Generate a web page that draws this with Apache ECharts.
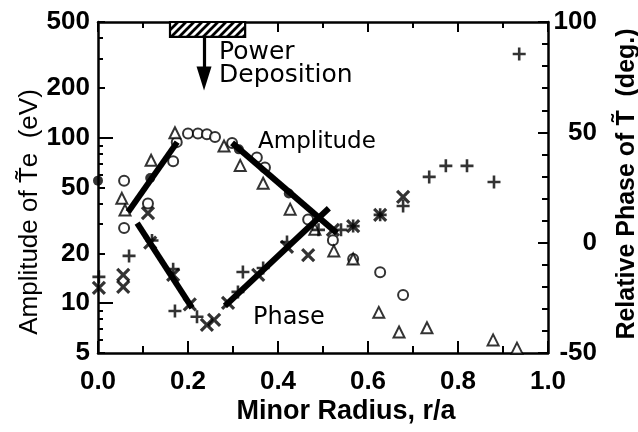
<!DOCTYPE html>
<html><head><meta charset="utf-8">
<script src="https://cdn.jsdelivr.net/npm/echarts@6/dist/echarts.min.js"></script>
<style>html,body{margin:0;padding:0;background:#fff}#c{width:638px;height:432px}</style>
</head><body><div id="c"></div>
<script>
// ---- data (r/a, amplitude eV) ----
const circles = [[0.058,55],[0.058,28.5],[0.111,40],[0.167,72],[0.175,94],[0.2,106],[0.222,106],[0.242,105],[0.26,101],[0.298,93],[0.353,76],[0.371,66],[0.467,32],[0.522,24],[0.567,18.5],[0.627,15.4],[0.678,11.2]];
const filledCircles = [[0.0,55],[0.116,57],[0.313,85],[0.424,46]];
const triangles = [[0.053,43],[0.06,36.5],[0.118,73],[0.171,107],[0.28,89],[0.316,68],[0.367,53],[0.427,37],[0.482,28],[0.524,20.7],[0.567,18.5],[0.624,8.8],[0.669,6.7],[0.731,7.1],[0.878,6.0],[0.931,5.35]];
// ---- data (r/a, relative phase deg) ----
const crosses = [[0.002,-20.5],[0.056,-14.6],[0.056,-20],[0.111,13.4],[0.116,0],[0.167,-14.6],[0.204,-28],[0.242,-37.3],[0.258,-35],[0.289,-27.3],[0.356,-14.6],[0.42,-1.9],[0.467,-5.6],[0.522,5.8],[0.567,7.5],[0.627,12.6],[0.678,20.7]];
const pluses = [[0.002,-15.5],[0.069,-6],[0.12,1],[0.167,-12],[0.171,-31],[0.22,-33.6],[0.311,-22.3],[0.322,-13.3],[0.367,-11.5],[0.42,0.3],[0.49,5.8],[0.54,5.8],[0.567,7.5],[0.627,12.6],[0.678,16.6],[0.736,29.8],[0.773,34.8],[0.82,34.8],[0.88,27.5],[0.936,85.5]];
// ---- fitted lines ----
const ampFitUp = [[0.067,35.6],[0.176,94]];
const ampFitDown = [[0.298,93],[0.531,26.5]];
const phaseFitDown = [[0.087,8.9],[0.209,-29.6]];
const phaseFitUp = [[0.282,-28.7],[0.513,15.6]];
// ---- power deposition annotation ----
const depositionRange = [0.16, 0.327];
const depositionAmp = [406, 500];
const arrowR = 0.2356, arrowAmp = [406, 228];
// ---- ticks ----
const xMin = 0, xMax = 1, xStep = 0.2;
const ampLabels = [5,10,20,50,100,200,500];
const ampMinor = [6,7,8,9,30,40,60,70,80,90,300,400];
const ampLong = [10,100];
const phaseMin = -50, phaseMax = 100, phaseStep = 50;

const hatch = document.createElement('canvas');
hatch.width = 8; hatch.height = 8;
(function(){const g = hatch.getContext('2d');g.fillStyle='#fff';g.fillRect(0,0,8,8);g.strokeStyle='#000';g.lineWidth=2.8;
 g.beginPath();g.moveTo(-2,10);g.lineTo(10,-2);g.moveTo(-2,2);g.lineTo(2,-2);g.moveTo(6,10);g.lineTo(10,6);g.stroke();})();

const black = '#000';
const axLine = {show:true,onZero:false,lineStyle:{color:black,width:2.5}};
const FONT = '"Liberation Sans", Arial, sans-serif';
const crossPath = 'path://M0,0L10,10M10,0L0,10';
const plusPath = 'path://M5,0L5,10M0,5L10,5';

const chart = echarts.init(document.getElementById('c'), null, {renderer:'canvas'});
const logAxisBase = {type:'log',logBase:10,min:5,max:500,position:'left',splitLine:{show:false}};
chart.setOption({
  animation:false,
  backgroundColor:'#fff',
  textStyle:{fontFamily:FONT},
  grid:{left:98,right:90,top:22,bottom:79,containLabel:false,outerBoundsMode:'none'},
  xAxis:[
    {type:'value',min:xMin,max:xMax,interval:xStep,position:'bottom',axisLine:axLine,
     axisTick:{show:true,inside:true,length:12,lineStyle:{color:black,width:2}},
     minorTick:{show:true,splitNumber:2,length:7,lineStyle:{color:black,width:2}},
     axisLabel:{color:black,fontSize:26,fontWeight:'bold',fontFamily:FONT,margin:16,formatter:v=>v.toFixed(1)},
     splitLine:{show:false},minorSplitLine:{show:false}},
    {type:'value',min:xMin,max:xMax,interval:xStep,position:'top',axisLine:axLine,
     axisTick:{show:true,inside:true,length:10,lineStyle:{color:black,width:2}},
     minorTick:{show:true,splitNumber:2,length:6,lineStyle:{color:black,width:2}},
     axisLabel:{show:false},splitLine:{show:false}}
  ],
  yAxis:[
    Object.assign({},logAxisBase,{axisLine:axLine,
     axisTick:{show:true,inside:true,length:7,customValues:ampLabels,lineStyle:{color:black,width:2}},
     axisLabel:{show:true,customValues:ampLabels,color:black,fontSize:26,fontWeight:'bold',fontFamily:FONT,margin:8,
       formatter:v=>String(Math.round(v))}}),
    {type:'value',min:phaseMin,max:phaseMax,interval:phaseStep,position:'right',axisLine:axLine,
     axisTick:{show:true,inside:true,length:10,lineStyle:{color:black,width:2}},
     minorTick:{show:true,splitNumber:5,length:6,lineStyle:{color:black,width:2}},
     axisLabel:{color:black,fontSize:26,fontWeight:'bold',fontFamily:FONT,margin:49,align:'right'},
     splitLine:{show:false},minorSplitLine:{show:false}},
    Object.assign({},logAxisBase,{axisLine:{show:false},
     axisTick:{show:true,inside:true,length:5,customValues:ampMinor,lineStyle:{color:black,width:2}},
     axisLabel:{show:false}}),
    Object.assign({},logAxisBase,{axisLine:{show:false},
     axisTick:{show:true,inside:true,length:15,customValues:ampLong,lineStyle:{color:black,width:2}},
     axisLabel:{show:false}})
  ],
  series:[
    {type:'scatter',name:'circles',xAxisIndex:0,yAxisIndex:0,data:circles,symbol:'emptyCircle',symbolSize:10,
     itemStyle:{color:black,borderWidth:2.1},z:3,
     markArea:{silent:true,itemStyle:{color:{image:hatch,repeat:'repeat'},borderColor:black,borderWidth:2.2},
       data:[[{xAxis:depositionRange[0],yAxis:depositionAmp[0]},{xAxis:depositionRange[1],yAxis:depositionAmp[1]}]]},
     markLine:{silent:true,symbol:['none','triangle'],symbolSize:[15,24],lineStyle:{color:black,width:3.2,type:'solid'},
       label:{show:false},data:[[{coord:[arrowR,arrowAmp[0]]},{coord:[arrowR,arrowAmp[1]]}]]}},
    {type:'scatter',name:'filled',xAxisIndex:0,yAxisIndex:0,data:filledCircles,symbol:'circle',symbolSize:10,
     itemStyle:{color:black},z:3},
    {type:'scatter',name:'triangles',xAxisIndex:0,yAxisIndex:0,data:triangles,symbol:'emptyTriangle',symbolSize:11,
     itemStyle:{color:black,borderWidth:2.1},z:3},
    {type:'scatter',name:'crosses',xAxisIndex:0,yAxisIndex:1,data:crosses,symbol:crossPath,symbolSize:12,
     itemStyle:{color:'none',borderColor:black,borderWidth:3.2},z:3},
    {type:'scatter',name:'pluses',xAxisIndex:0,yAxisIndex:1,data:pluses,symbol:plusPath,symbolSize:13,
     itemStyle:{color:'none',borderColor:black,borderWidth:2.6},z:3},
    {type:'line',xAxisIndex:0,yAxisIndex:0,data:ampFitUp,showSymbol:false,lineStyle:{color:black,width:6},z:4},
    {type:'line',xAxisIndex:0,yAxisIndex:0,data:ampFitDown,showSymbol:false,lineStyle:{color:black,width:6},z:4},
    {type:'line',xAxisIndex:0,yAxisIndex:1,data:phaseFitDown,showSymbol:false,lineStyle:{color:black,width:6},z:4},
    {type:'line',xAxisIndex:0,yAxisIndex:1,data:phaseFitUp,showSymbol:false,lineStyle:{color:black,width:6},z:4}
  ],
  graphic:[
    {type:'text',x:30,y:212,rotation:Math.PI/2,style:{text:'Amplitude of T\u0303e  (eV)',font:'26px '+FONT,fill:black,textAlign:'center',textVerticalAlign:'middle'}},
    {type:'text',x:627,y:184,rotation:Math.PI/2,style:{text:'Relative Phase of T\u0303  (deg.)',font:'bold 25px '+FONT,fill:black,textAlign:'center',textVerticalAlign:'middle'}},
    {type:'text',x:346,y:412,style:{text:'Minor Radius, r/a',font:'bold 27px '+FONT,fill:black,textAlign:'center',textVerticalAlign:'middle'}},
    {type:'text',x:219,y:52,style:{text:'Power',font:'25px "DejaVu Sans"',fill:black,textAlign:'left',textVerticalAlign:'middle'}},
    {type:'text',x:219,y:75,style:{text:'Deposition',font:'25px "DejaVu Sans"',fill:black,textAlign:'left',textVerticalAlign:'middle'}},
    {type:'text',x:258,y:142,style:{text:'Amplitude',font:'23px "DejaVu Sans"',fill:black,textAlign:'left',textVerticalAlign:'middle'}},
    {type:'text',x:253,y:318,style:{text:'Phase',font:'24px "DejaVu Sans"',fill:black,textAlign:'left',textVerticalAlign:'middle'}}
  ]
});
</script></body></html>
